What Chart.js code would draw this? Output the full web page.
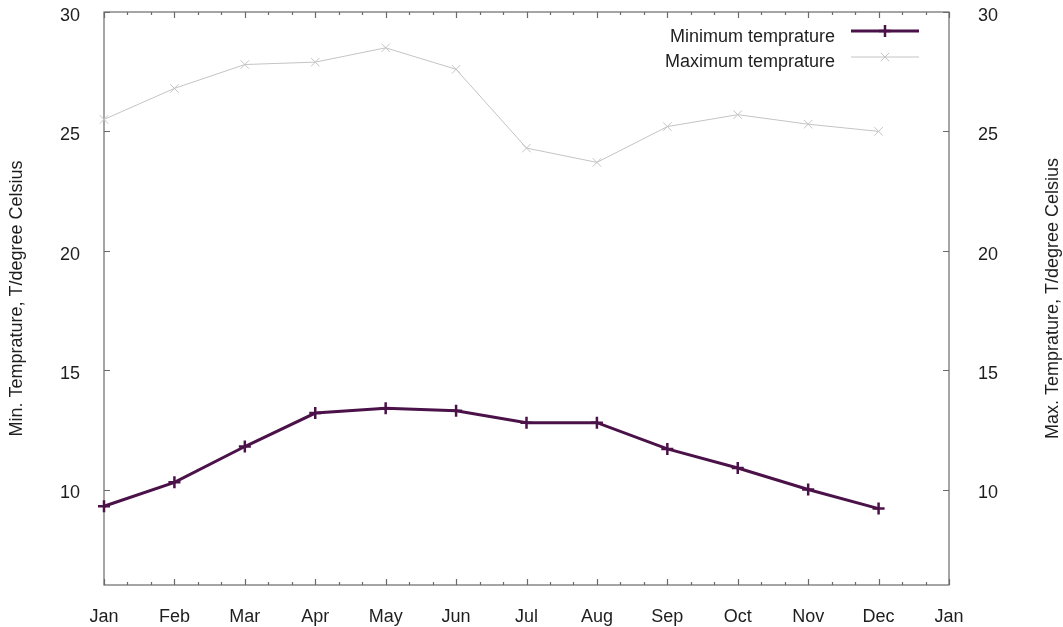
<!DOCTYPE html>
<html>
<head>
<meta charset="utf-8">
<script src="https://cdn.jsdelivr.net/npm/chart.js@4.4.1/dist/chart.umd.min.js"></script>
<style>
  html, body { margin: 0; padding: 0; background: #fff; }
  #wrap { width: 1063px; height: 627px; position: relative; }
</style>
</head>
<body>
<div id="wrap"><canvas id="c"></canvas></div>
<script>
// Monthly temperatures (degrees Celsius)
const monthLabels = ['Jan', 'Feb', 'Mar', 'Apr', 'May', 'Jun', 'Jul', 'Aug', 'Sep', 'Oct', 'Nov', 'Dec', 'Jan'];
const minTemp = [9.3, 10.3, 11.8, 13.2, 13.4, 13.3, 12.8, 12.8, 11.7, 10.9, 10.0, 9.2];
const maxTemp = [25.5, 26.8, 27.8, 27.9, 28.5, 27.6, 24.3, 23.7, 25.2, 25.7, 25.3, 25.0];
const yTickValues = [10, 15, 20, 25, 30];
const seriesNames = ['Minimum temprature', 'Maximum temprature'];
const leftTitle = 'Min. Temprature, T/degree Celsius';
const rightTitle = 'Max. Temprature, T/degree Celsius';

const FONT = 'Liberation Sans, Arial, sans-serif';
const TEXT = '#1e1e1e';
const MIN_COLOR = '#4b1249';
const MAX_COLOR = '#c4c4c4';
const FRAME = '#6a6a6a';

const W = 1063, H = 627;
const AREA = { left: 104, right: 949, top: 12, bottom: 585 };

// Border box with inward tick marks on all four sides
const framePlugin = {
  id: 'frame',
  beforeDatasetsDraw(chart) {
    const { ctx, chartArea: a, scales } = chart;
    const x = scales.x, y = scales.y;
    ctx.save();
    ctx.strokeStyle = FRAME;
    ctx.lineWidth = 1.2;
    ctx.strokeRect(a.left, a.top, a.right - a.left, a.bottom - a.top);
    ctx.beginPath();
    for (let i = 0; i <= (monthLabels.length - 1) * 3; i++) {
      const px = Math.round(x.getPixelForValue(i / 3)) + 0.5;
      const len = i % 3 === 0 ? 6 : 3;
      ctx.moveTo(px, a.bottom); ctx.lineTo(px, a.bottom - len);
      ctx.moveTo(px, a.top); ctx.lineTo(px, a.top + len);
    }
    yTickValues.forEach(v => {
      const py = Math.round(y.getPixelForValue(v)) + 0.5;
      ctx.moveTo(a.left, py); ctx.lineTo(a.left + 6, py);
      ctx.moveTo(a.right, py); ctx.lineTo(a.right - 6, py);
    });
    ctx.stroke();
    ctx.restore();
  }
};

// Rotated axis titles and the key in the top-right corner
const labelsPlugin = {
  id: 'labels',
  afterDraw(chart) {
    const { ctx, chartArea: a } = chart;
    const cy = (a.top + a.bottom) / 2;
    ctx.save();
    ctx.fillStyle = TEXT;
    ctx.font = '18px ' + FONT;
    ctx.textAlign = 'center';
    ctx.textBaseline = 'middle';
    [[17, leftTitle], [1053, rightTitle]].forEach(([tx, t]) => {
      ctx.save();
      ctx.translate(tx, cy);
      ctx.rotate(-Math.PI / 2);
      ctx.fillText(t, 0, 0);
      ctx.restore();
    });

    // key
    const ds = chart.data.datasets;
    const rows = [{ ty: 37, ly: 31 }, { ty: 62, ly: 57 }];
    ctx.textAlign = 'right';
    rows.forEach((r, i) => {
      ctx.fillStyle = TEXT;
      ctx.fillText(seriesNames[i], 835, r.ty);
      ctx.strokeStyle = ds[i].borderColor;
      ctx.lineWidth = ds[i].borderWidth;
      ctx.beginPath();
      ctx.moveTo(851, r.ly); ctx.lineTo(919, r.ly);
      ctx.stroke();
      ctx.lineWidth = ds[i].pointBorderWidth;
      Chart.helpers.drawPoint(ctx, {
        pointStyle: ds[i].pointStyle,
        radius: ds[i].pointRadius,
        rotation: 0,
        borderWidth: ds[i].pointBorderWidth
      }, 885, r.ly);
    });
    ctx.restore();
  }
};

const toPoints = arr => arr.map((v, i) => ({ x: i, y: v }));

const fixY = w => s => { s.width = w; s.paddingTop = 0; s.paddingBottom = 0; };

new Chart(document.getElementById('c'), {
  type: 'line',
  data: {
    datasets: [
      {
        label: seriesNames[0],
        data: toPoints(minTemp),
        yAxisID: 'y',
        borderColor: MIN_COLOR,
        backgroundColor: MIN_COLOR,
        borderWidth: 3,
        pointStyle: 'cross',
        pointRadius: 6,
        pointBorderWidth: 2.5,
        pointBorderColor: MIN_COLOR,
        tension: 0,
        clip: false
      },
      {
        label: seriesNames[1],
        data: toPoints(maxTemp),
        yAxisID: 'y2',
        borderColor: MAX_COLOR,
        backgroundColor: MAX_COLOR,
        borderWidth: 1,
        pointStyle: 'crossRot',
        pointRadius: 6,
        pointBorderWidth: 1,
        pointBorderColor: MAX_COLOR,
        tension: 0,
        clip: false
      }
    ]
  },
  options: {
    responsive: true,
    maintainAspectRatio: false,
    animation: false,
    events: [],
    layout: { padding: { top: AREA.top, left: 0, right: 0, bottom: 0 } },
    plugins: { legend: { display: false }, tooltip: { enabled: false } },
    scales: {
      x: {
        type: 'linear',
        min: 0,
        max: monthLabels.length - 1,
        grid: { display: false },
        border: { display: false },
        afterBuildTicks: s => { s.ticks = monthLabels.map((_, i) => ({ value: i })); },
        afterFit: s => { s.height = H - AREA.bottom; s.paddingLeft = 0; s.paddingRight = 0; },
        ticks: {
          autoSkip: false,
          maxRotation: 0,
          padding: 13,
          color: TEXT,
          font: { family: FONT, size: 18 },
          callback: v => monthLabels[v]
        }
      },
      y: {
        position: 'left',
        min: 6,
        max: 30,
        grid: { display: false },
        border: { display: false },
        afterBuildTicks: s => { s.ticks = yTickValues.map(v => ({ value: v })); },
        afterFit: fixY(AREA.left),
        ticks: { padding: 16, labelOffset: 4, color: TEXT, font: { family: FONT, size: 18 } }
      },
      y2: {
        position: 'right',
        min: 6,
        max: 30,
        grid: { display: false },
        border: { display: false },
        afterBuildTicks: s => { s.ticks = yTickValues.map(v => ({ value: v })); },
        afterFit: fixY(W - AREA.right),
        ticks: { padding: 21, labelOffset: 4, color: TEXT, font: { family: FONT, size: 18 } }
      }
    }
  },
  plugins: [framePlugin, labelsPlugin]
});
</script>
</body>
</html>
